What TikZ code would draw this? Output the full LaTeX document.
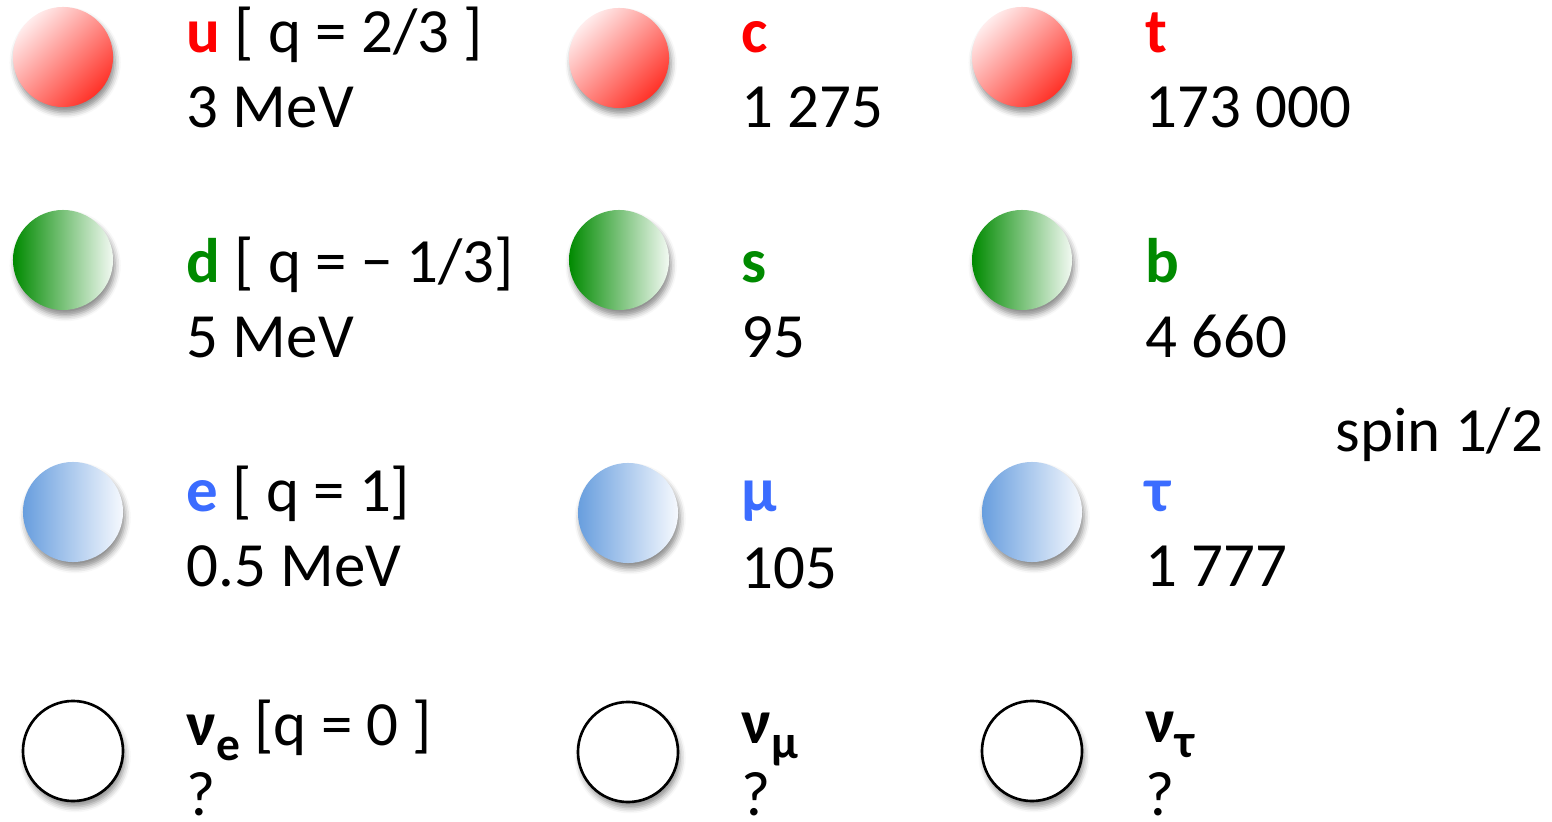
\documentclass[tikz,border=0pt]{standalone}
\usepackage{fontspec}
\setmainfont{Carlito}
\usepackage{xcolor}
\usepackage{tikz}
\usetikzlibrary{shadows.blur}

\definecolor{upred}{RGB}{255,0,0}
\definecolor{downgreen}{RGB}{0,138,0}
\definecolor{lepblue}{RGB}{59,108,255}
\newcommand{\lowidx}[1]{\raisebox{-4.3pt}{\fontsize{13.5}{14}\selectfont #1}}

\begin{document}
\begin{tikzpicture}[x=0.01cm, y=-0.01cm]
\tikzstyle{ball}=[circle, minimum size=1cm, inner sep=0pt, blur shadow={shadow xshift=0.6pt, shadow yshift=-1.6pt, shadow blur radius=1.6pt, shadow opacity=45}]
\tikzstyle{upball}=[ball, shading=axis, top color={rgb,255:red,255;green,236;blue,236}, bottom color={rgb,255:red,255;green,50;blue,40}, shading angle=45]
\tikzstyle{downball}=[ball, left color={rgb,255:red,0;green,138;blue,0}, right color={rgb,255:red,242;green,249;blue,242}]
\tikzstyle{lepball}=[ball, left color={rgb,255:red,104;green,158;blue,222}, right color={rgb,255:red,246;green,249;blue,254}]
\tikzstyle{nuball}=[ball, draw=black, line width=0.75pt, fill=white]
\tikzstyle{lbl}=[anchor=base west, inner sep=0pt, font=\fontsize{17.9}{20}\selectfont]

\useasboundingbox (0,0) rectangle (1552,822);

% quarks, up type
\node[upball] (u) at (63,57) {};
\node[upball] (c) at (619,58) {};
\node[upball] (t) at (1022,57) {};
\node[lbl] (uname) at (186,53) {\textbf{\color{upred}u} [ q = 2/3 ]};
\node[lbl] (umass) at (186,128) {3 MeV};
\node[lbl] (cname) at (741,53) {\textbf{\color{upred}c}};
\node[lbl] (cmass) at (741,128) {1 275};
\node[lbl] (tname) at (1145,53) {\textbf{\color{upred}t}};
\node[lbl] (tmass) at (1145,128) {173 000};

% quarks, down type
\node[downball] (d) at (63,260) {};
\node[downball] (s) at (619,260) {};
\node[downball] (b) at (1022,260) {};
\node[lbl] (dname) at (186,283) {\textbf{\color{downgreen}d} [ q = − 1/3]};
\node[lbl] (dmass) at (186,358) {5 MeV};
\node[lbl] (sname) at (741,283) {\textbf{\color{downgreen}s}};
\node[lbl] (smass) at (741,358) {95};
\node[lbl] (bname) at (1145,283) {\textbf{\color{downgreen}b}};
\node[lbl] (bmass) at (1145,358) {4 660};

% charged leptons
\node[lepball] (e) at (73,512) {};
\node[lepball] (mu) at (628,513) {};
\node[lepball] (tau) at (1032,512) {};
\node[lbl] (ename) at (186,512) {\textbf{\color{lepblue}e} [ q = 1]};
\node[lbl] (emass) at (186,587) {0.5 MeV};
\node[lbl] (muname) at (741,512) {\textbf{\color{lepblue}μ}};
\node[lbl] (mumass) at (741,588) {105};
\node[lbl] (tauname) at (1145,512) {\textbf{\color{lepblue}τ}};
\node[lbl] (taumass) at (1145,587) {1 777};

% neutrinos
\node[nuball] (nue) at (73,751) {};
\node[nuball] (numu) at (628,752) {};
\node[nuball] (nutau) at (1032,751) {};
\node[lbl] (nuename) at (186,745) {\textbf{ν\lowidx{e}} [q = 0 ]};
\node[lbl] (nuemass) at (186,815) {?};
\node[lbl] (numuname) at (741,743) {\textbf{ν\lowidx{μ}}};
\node[lbl] (numumass) at (741,815) {?};
\node[lbl] (nutauname) at (1145,742) {\textbf{ν\lowidx{τ}}};
\node[lbl] (nutaumass) at (1145,815) {?};

\node[lbl] (spin) at (1335,452) {spin 1/2};
\end{tikzpicture}
\end{document}
